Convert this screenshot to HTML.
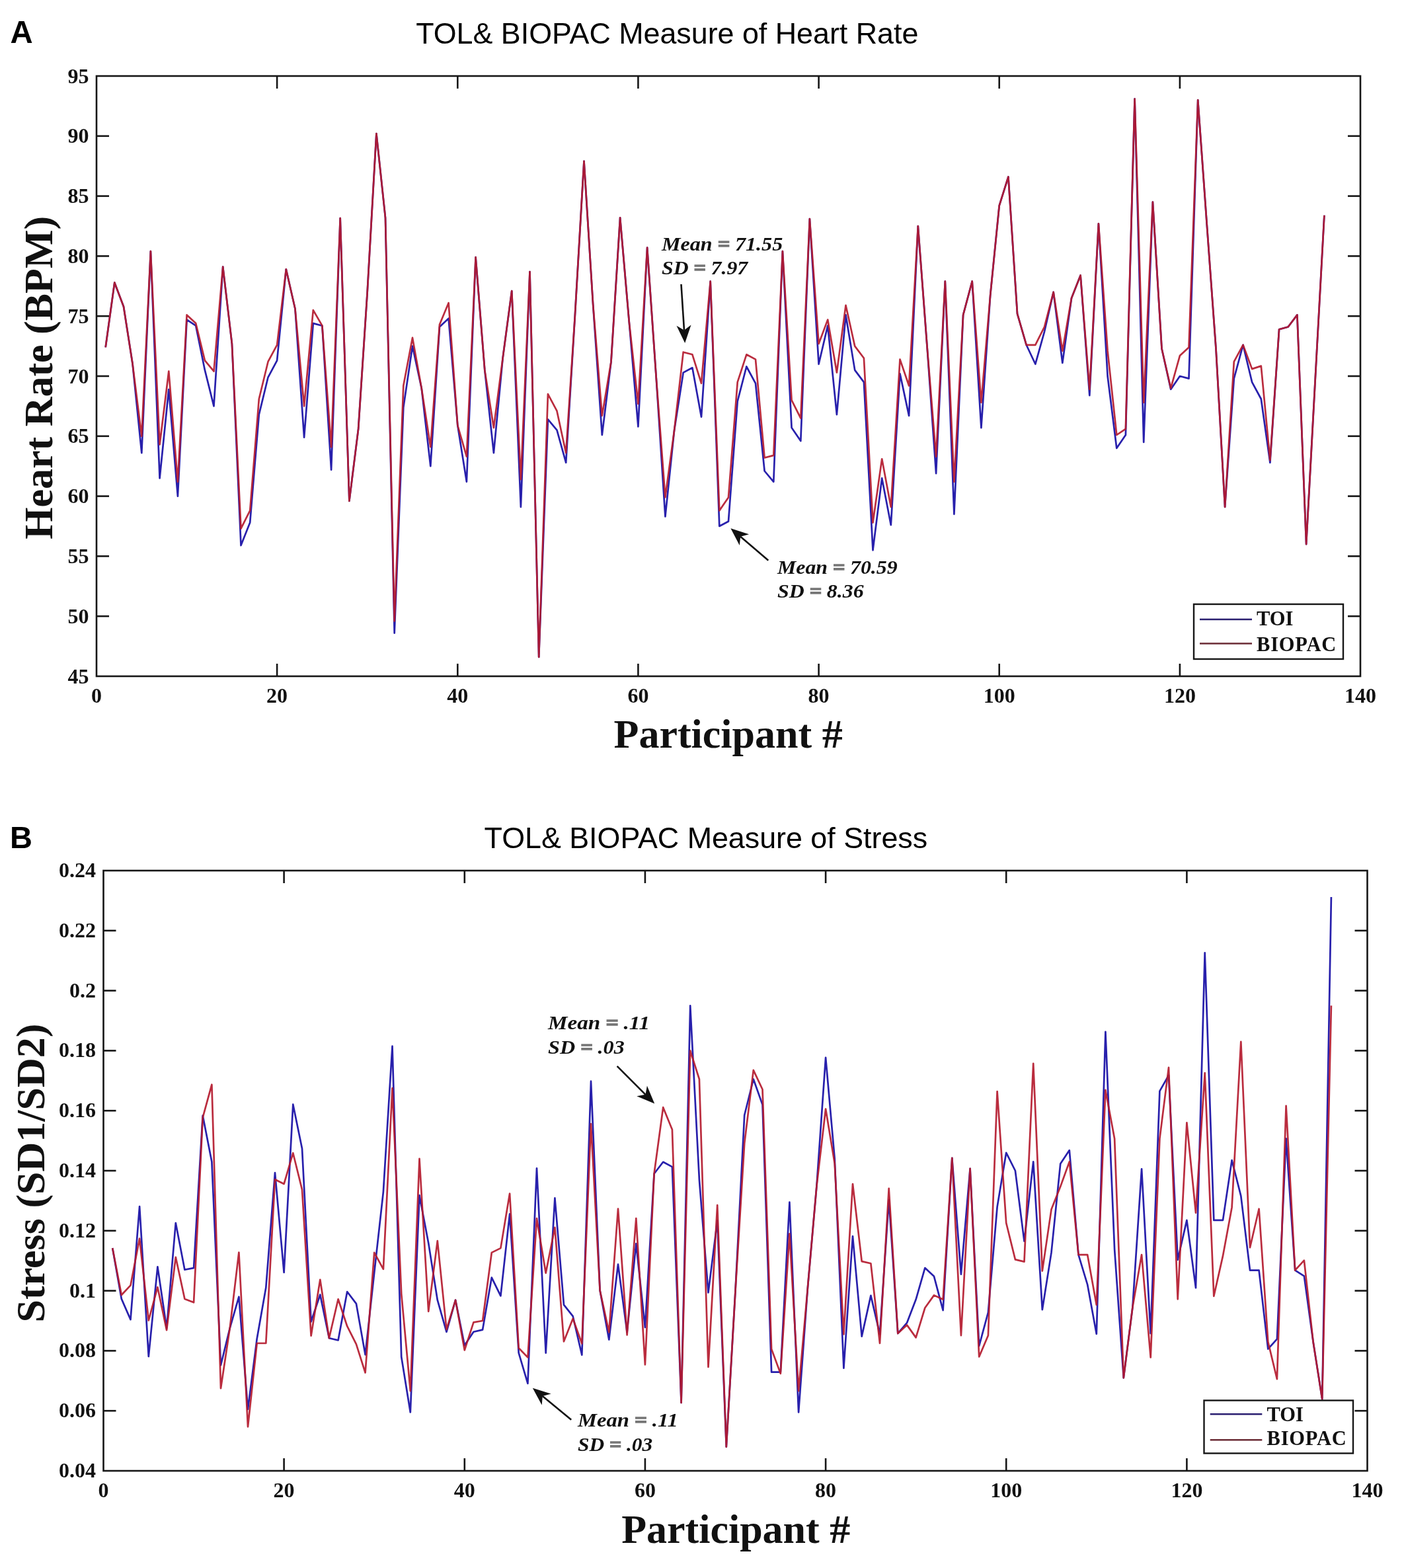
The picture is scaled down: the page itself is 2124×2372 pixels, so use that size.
<!DOCTYPE html>
<html><head><meta charset="utf-8"><title>TOL &amp; BIOPAC Measures</title>
<style>html,body{margin:0;padding:0;background:#fff;}svg{display:block;}</style>
</head><body>
<svg width="2124" height="2372" viewBox="0 0 2124 2372">
<rect width="2124" height="2372" fill="#fff"/>
<g font-family="Liberation Sans, Arial, sans-serif" fill="#000">
<text x="15.6" y="65.0" font-weight="bold" font-size="47.3">A</text>
<text x="15" y="1282.6" font-weight="bold" font-size="47">B</text>
<text x="629.2" y="65.8" font-size="44.8">TOL&amp; BIOPAC Measure of Heart Rate</text>
<text x="732.6" y="1283" font-size="44.8">TOL&amp; BIOPAC Measure of Stress</text>
</g>
<g font-family="Liberation Serif, serif" font-weight="bold" font-size="62" fill="#111">
<text transform="translate(79.3,571.3) rotate(-90)" text-anchor="middle">Heart Rate (BPM)</text>
<text transform="translate(66.8,1774.5) rotate(-90)" text-anchor="middle">Stress (SD1/SD2)</text>
<text x="1101.6" y="1130.5" text-anchor="middle">Participant #</text>
<text x="1113.2" y="2333.5" text-anchor="middle">Participant #</text>
</g>
<g>
<polyline points="159.7,525.4 173.3,427.4 187.0,463.7 200.6,550.8 214.3,685.2 227.9,380.1 241.6,723.4 255.3,589.0 268.9,750.6 282.6,483.6 296.2,492.7 309.9,559.9 323.5,614.4 337.2,403.7 350.9,520.0 364.5,825.1 378.2,790.6 391.8,627.1 405.5,570.8 419.1,545.4 432.8,407.4 446.5,467.3 460.1,661.6 473.8,489.1 487.4,492.7 501.1,710.6 514.7,330.2 528.4,757.9 542.1,648.9 555.7,441.9 569.4,202.2 583.0,329.3 596.7,957.6 610.3,616.2 624.0,523.6 637.7,587.2 651.3,705.2 665.0,494.5 678.6,481.8 692.3,643.5 705.9,728.8 719.6,389.2 733.3,559.9 746.9,685.2 760.6,541.8 774.2,440.1 787.9,766.9 801.5,411.0 815.2,993.9 828.9,634.4 842.5,650.7 856.2,699.8 869.8,478.2 883.5,243.9 897.1,460.0 910.8,658.0 924.5,547.2 938.1,329.3 951.8,487.3 965.4,645.3 979.1,374.7 992.7,570.8 1006.4,781.5 1020.1,650.7 1033.7,563.6 1047.4,556.3 1061.0,630.7 1074.7,425.5 1088.3,796.0 1102.0,788.7 1115.7,607.1 1129.3,554.5 1143.0,579.9 1156.6,712.5 1170.3,728.8 1183.9,380.1 1197.6,647.1 1211.3,667.1 1224.9,331.1 1238.6,550.8 1252.2,492.7 1265.9,627.1 1279.5,476.4 1293.2,559.9 1306.9,578.1 1320.5,832.3 1334.2,723.4 1347.8,794.2 1361.5,565.4 1375.1,628.9 1388.8,342.0 1402.5,523.6 1416.1,716.1 1429.8,425.5 1443.4,777.8 1457.1,476.4 1470.7,425.5 1484.4,647.1 1498.1,447.3 1511.7,311.1 1525.4,267.5 1539.0,474.6 1552.7,521.8 1566.3,550.8 1580.0,501.8 1593.7,441.9 1607.3,549.0 1621.0,451.0 1634.6,416.5 1648.3,598.1 1661.9,338.4 1675.6,569.0 1689.3,678.0 1702.9,658.0 1716.6,149.5 1730.2,668.9 1743.9,305.7 1757.5,527.2 1771.2,589.0 1784.9,569.0 1798.5,572.6 1812.2,151.3 1825.8,340.2 1839.5,527.2 1853.1,766.9 1866.8,572.6 1880.5,521.8 1894.1,578.1 1907.8,603.5 1921.4,699.8 1935.1,498.2 1948.7,494.5 1962.4,476.4 1976.1,823.2 1989.7,574.4 2003.4,325.7" fill="none" stroke="#2820ac" stroke-width="2.70" stroke-opacity="1.00" stroke-linejoin="round" stroke-linecap="butt"/>
<polyline points="159.7,525.4 173.3,427.4 187.0,463.7 200.6,550.8 214.3,659.8 227.9,380.1 241.6,672.5 255.3,561.7 268.9,728.8 282.6,476.4 296.2,489.1 309.9,545.4 323.5,561.7 337.2,403.7 350.9,520.0 364.5,799.6 378.2,772.4 391.8,603.5 405.5,547.2 419.1,521.8 432.8,407.4 446.5,467.3 460.1,614.4 473.8,469.1 487.4,492.7 501.1,676.1 514.7,330.2 528.4,757.9 542.1,648.9 555.7,441.9 569.4,202.2 583.0,329.3 596.7,939.5 610.3,583.5 624.0,510.9 637.7,587.2 651.3,676.1 665.0,490.9 678.6,458.2 692.3,643.5 705.9,690.7 719.6,389.2 733.3,559.9 746.9,647.1 760.6,541.8 774.2,440.1 787.9,725.2 801.5,411.0 815.2,993.9 828.9,596.2 842.5,621.7 856.2,685.2 869.8,478.2 883.5,243.9 897.1,460.0 910.8,628.9 924.5,547.2 938.1,329.3 951.8,487.3 965.4,610.8 979.1,374.7 992.7,570.8 1006.4,752.4 1020.1,650.7 1033.7,532.7 1047.4,536.3 1061.0,579.9 1074.7,425.5 1088.3,772.4 1102.0,752.4 1115.7,578.1 1129.3,536.3 1143.0,543.6 1156.6,692.5 1170.3,688.9 1183.9,380.1 1197.6,605.3 1211.3,632.6 1224.9,331.1 1238.6,520.0 1252.2,483.6 1265.9,563.6 1279.5,461.9 1293.2,523.6 1306.9,541.8 1320.5,790.6 1334.2,694.3 1347.8,766.9 1361.5,543.6 1375.1,583.5 1388.8,342.0 1402.5,523.6 1416.1,690.7 1429.8,425.5 1443.4,728.8 1457.1,476.4 1470.7,425.5 1484.4,609.0 1498.1,447.3 1511.7,311.1 1525.4,267.5 1539.0,474.6 1552.7,521.8 1566.3,521.8 1580.0,494.5 1593.7,441.9 1607.3,530.9 1621.0,451.0 1634.6,416.5 1648.3,589.0 1661.9,338.4 1675.6,530.9 1689.3,658.0 1702.9,648.9 1716.6,149.5 1730.2,609.0 1743.9,305.7 1757.5,527.2 1771.2,587.2 1784.9,538.1 1798.5,525.4 1812.2,151.3 1825.8,340.2 1839.5,527.2 1853.1,766.9 1866.8,547.2 1880.5,521.8 1894.1,558.1 1907.8,553.6 1921.4,696.1 1935.1,498.2 1948.7,494.5 1962.4,476.4 1976.1,823.2 1989.7,574.4 2003.4,325.7" fill="none" stroke="#b41a2e" stroke-width="2.70" stroke-opacity="0.92" stroke-linejoin="round" stroke-linecap="butt"/>
<polyline points="170.2,1888.1 183.8,1964.9 197.5,1996.2 211.1,1825.0 224.8,2052.0 238.4,1916.3 252.1,2009.3 265.8,1850.0 279.4,1920.8 293.1,1918.1 306.7,1687.5 320.4,1757.4 334.0,2065.2 347.7,2009.3 361.4,1961.7 375.0,2131.9 388.7,2025.2 402.3,1948.1 416.0,1774.2 429.6,1924.9 443.3,1670.7 457.0,1737.4 470.6,1999.4 484.3,1958.5 497.9,2024.3 511.6,2027.5 525.2,1954.0 538.9,1972.1 552.6,2049.3 566.2,1925.4 579.9,1802.8 593.5,1582.6 607.2,2052.5 620.8,2136.5 634.5,1808.2 648.2,1880.4 661.8,1966.7 675.5,2014.8 689.1,1966.7 702.8,2035.2 716.4,2014.8 730.1,2011.6 743.8,1932.6 757.4,1960.3 771.1,1836.4 784.7,2046.6 798.4,2092.9 812.0,1767.4 825.7,2046.6 839.4,1812.3 853.0,1973.9 866.7,1991.2 880.3,2049.8 894.0,1635.7 907.6,1952.1 921.3,2026.6 935.0,1912.6 948.6,2015.3 962.3,1881.3 975.9,2008.0 989.6,1775.5 1003.2,1757.8 1016.9,1765.1 1030.6,2121.9 1044.2,1521.3 1057.9,1784.6 1071.5,1955.3 1085.2,1846.4 1098.8,2188.7 1112.5,1952.6 1126.2,1687.0 1139.8,1632.5 1153.5,1671.1 1167.1,2075.6 1180.8,2075.6 1194.4,1818.7 1208.1,2136.5 1221.8,1949.4 1235.4,1794.6 1249.1,1599.8 1262.7,1752.8 1276.4,2069.7 1290.0,1870.0 1303.7,2021.6 1317.4,1959.9 1331.0,2018.4 1344.7,1815.0 1358.3,2017.1 1372.0,2001.2 1385.6,1965.8 1399.3,1918.1 1413.0,1930.8 1426.6,1982.1 1440.3,1751.9 1453.9,1927.6 1467.6,1767.8 1481.2,2036.1 1494.9,1985.3 1508.6,1825.9 1522.2,1743.8 1535.9,1771.0 1549.5,1877.7 1563.2,1757.4 1576.8,1981.2 1590.5,1894.9 1604.2,1760.6 1617.8,1740.1 1631.5,1898.1 1645.1,1943.1 1658.8,2018.0 1672.4,1560.8 1686.1,1889.9 1699.8,2084.3 1713.4,1977.6 1727.1,1768.3 1740.7,2017.1 1754.4,1650.7 1768.0,1626.6 1781.7,1905.8 1795.4,1845.9 1809.0,1948.1 1822.7,1441.4 1836.3,1845.9 1850.0,1845.9 1863.6,1755.1 1877.3,1809.1 1891.0,1921.7 1904.6,1921.7 1918.3,2040.7 1931.9,2025.7 1945.6,1722.4 1959.2,1921.7 1972.9,1930.4 1986.6,2029.8 2000.2,2116.5 2013.9,1357.0" fill="none" stroke="#2820ac" stroke-width="2.70" stroke-opacity="1.00" stroke-linejoin="round" stroke-linecap="butt"/>
<polyline points="170.2,1888.1 183.8,1959.0 197.5,1944.4 211.1,1873.6 224.8,1997.5 238.4,1947.2 252.1,2012.1 265.8,1901.8 279.4,1964.9 293.1,1970.3 306.7,1690.6 320.4,1640.7 334.0,2100.2 347.7,2009.3 361.4,1894.5 375.0,2158.3 388.7,2032.0 402.3,2032.0 416.0,1784.2 429.6,1791.0 443.3,1744.2 457.0,1799.6 470.6,2020.7 484.3,1935.8 497.9,2024.3 511.6,1965.3 525.2,2006.2 538.9,2033.4 552.6,2076.5 566.2,1894.9 579.9,1919.9 593.5,1646.2 607.2,1957.1 620.8,2104.2 634.5,1752.8 648.2,1983.9 661.8,1877.2 675.5,2011.2 689.1,1966.7 702.8,2042.5 716.4,2000.3 730.1,1998.0 743.8,1894.9 757.4,1888.1 771.1,1805.5 784.7,2039.3 798.4,2053.4 812.0,1843.2 825.7,1925.8 839.4,1856.8 853.0,2029.3 866.7,1994.8 880.3,2032.5 894.0,1700.2 907.6,1952.1 921.3,2015.3 935.0,1828.7 948.6,2019.3 962.3,1843.2 975.9,2064.3 989.6,1775.5 1003.2,1675.2 1016.9,1708.8 1030.6,2121.9 1044.2,1589.4 1057.9,1632.5 1071.5,2067.9 1085.2,1823.2 1098.8,2188.7 1112.5,1952.6 1126.2,1729.7 1139.8,1618.9 1153.5,1648.0 1167.1,2040.7 1180.8,2077.9 1194.4,1866.3 1208.1,2104.2 1221.8,1949.4 1235.4,1794.6 1249.1,1677.5 1262.7,1760.1 1276.4,2018.4 1290.0,1791.0 1303.7,1908.1 1317.4,1911.3 1331.0,2032.0 1344.7,1797.8 1358.3,2017.1 1372.0,2004.4 1385.6,2023.4 1399.3,1978.5 1413.0,1959.4 1426.6,1965.8 1440.3,1751.9 1453.9,2020.2 1467.6,1767.8 1481.2,2052.5 1494.9,2020.2 1508.6,1651.1 1522.2,1850.0 1535.9,1905.4 1549.5,1908.6 1563.2,1608.9 1576.8,1922.6 1590.5,1829.6 1604.2,1795.1 1617.8,1757.4 1631.5,1898.1 1645.1,1898.1 1658.8,1973.9 1672.4,1648.9 1686.1,1722.4 1699.8,2084.3 1713.4,1977.6 1727.1,1898.1 1740.7,2053.4 1754.4,1722.4 1768.0,1614.8 1781.7,1965.3 1795.4,1698.4 1809.0,1834.6 1822.7,1623.0 1836.3,1960.8 1850.0,1899.9 1863.6,1826.4 1877.3,1575.8 1891.0,1887.2 1904.6,1828.7 1918.3,2029.8 1931.9,2086.1 1945.6,1672.9 1959.2,1921.7 1972.9,1906.7 1986.6,2029.8 2000.2,2116.5 2013.9,1521.3" fill="none" stroke="#b41a2e" stroke-width="2.70" stroke-opacity="0.92" stroke-linejoin="round" stroke-linecap="butt"/>
</g>
<g stroke="#161616" stroke-width="2.6"><line x1="419.1" y1="1023.0" x2="419.1" y2="1004.0"/><line x1="419.1" y1="115.0" x2="419.1" y2="134.0"/><line x1="692.3" y1="1023.0" x2="692.3" y2="1004.0"/><line x1="692.3" y1="115.0" x2="692.3" y2="134.0"/><line x1="965.4" y1="1023.0" x2="965.4" y2="1004.0"/><line x1="965.4" y1="115.0" x2="965.4" y2="134.0"/><line x1="1238.6" y1="1023.0" x2="1238.6" y2="1004.0"/><line x1="1238.6" y1="115.0" x2="1238.6" y2="134.0"/><line x1="1511.7" y1="1023.0" x2="1511.7" y2="1004.0"/><line x1="1511.7" y1="115.0" x2="1511.7" y2="134.0"/><line x1="1784.9" y1="1023.0" x2="1784.9" y2="1004.0"/><line x1="1784.9" y1="115.0" x2="1784.9" y2="134.0"/><line x1="146.0" y1="932.2" x2="165.0" y2="932.2"/><line x1="2058.0" y1="932.2" x2="2039.0" y2="932.2"/><line x1="146.0" y1="841.4" x2="165.0" y2="841.4"/><line x1="2058.0" y1="841.4" x2="2039.0" y2="841.4"/><line x1="146.0" y1="750.6" x2="165.0" y2="750.6"/><line x1="2058.0" y1="750.6" x2="2039.0" y2="750.6"/><line x1="146.0" y1="659.8" x2="165.0" y2="659.8"/><line x1="2058.0" y1="659.8" x2="2039.0" y2="659.8"/><line x1="146.0" y1="569.0" x2="165.0" y2="569.0"/><line x1="2058.0" y1="569.0" x2="2039.0" y2="569.0"/><line x1="146.0" y1="478.2" x2="165.0" y2="478.2"/><line x1="2058.0" y1="478.2" x2="2039.0" y2="478.2"/><line x1="146.0" y1="387.4" x2="165.0" y2="387.4"/><line x1="2058.0" y1="387.4" x2="2039.0" y2="387.4"/><line x1="146.0" y1="296.6" x2="165.0" y2="296.6"/><line x1="2058.0" y1="296.6" x2="2039.0" y2="296.6"/><line x1="146.0" y1="205.8" x2="165.0" y2="205.8"/><line x1="2058.0" y1="205.8" x2="2039.0" y2="205.8"/></g><rect x="146.0" y="115.0" width="1912.0" height="908.0" fill="none" stroke="#161616" stroke-width="2.6"/><g font-family="Liberation Serif, serif" font-weight="bold" font-size="32" fill="#111"><text x="134.5" y="1033.6" text-anchor="end">45</text><text x="134.5" y="942.8" text-anchor="end">50</text><text x="134.5" y="852.0" text-anchor="end">55</text><text x="134.5" y="761.2" text-anchor="end">60</text><text x="134.5" y="670.4" text-anchor="end">65</text><text x="134.5" y="579.6" text-anchor="end">70</text><text x="134.5" y="488.8" text-anchor="end">75</text><text x="134.5" y="398.0" text-anchor="end">80</text><text x="134.5" y="307.2" text-anchor="end">85</text><text x="134.5" y="216.4" text-anchor="end">90</text><text x="134.5" y="125.6" text-anchor="end">95</text><text x="146.0" y="1062.8" text-anchor="middle">0</text><text x="419.1" y="1062.8" text-anchor="middle">20</text><text x="692.3" y="1062.8" text-anchor="middle">40</text><text x="965.4" y="1062.8" text-anchor="middle">60</text><text x="1238.6" y="1062.8" text-anchor="middle">80</text><text x="1511.7" y="1062.8" text-anchor="middle">100</text><text x="1784.9" y="1062.8" text-anchor="middle">120</text><text x="2058.0" y="1062.8" text-anchor="middle">140</text></g>
<g stroke="#161616" stroke-width="2.6"><line x1="429.6" y1="2225.0" x2="429.6" y2="2206.0"/><line x1="429.6" y1="1317.0" x2="429.6" y2="1336.0"/><line x1="702.8" y1="2225.0" x2="702.8" y2="2206.0"/><line x1="702.8" y1="1317.0" x2="702.8" y2="1336.0"/><line x1="975.9" y1="2225.0" x2="975.9" y2="2206.0"/><line x1="975.9" y1="1317.0" x2="975.9" y2="1336.0"/><line x1="1249.1" y1="2225.0" x2="1249.1" y2="2206.0"/><line x1="1249.1" y1="1317.0" x2="1249.1" y2="1336.0"/><line x1="1522.2" y1="2225.0" x2="1522.2" y2="2206.0"/><line x1="1522.2" y1="1317.0" x2="1522.2" y2="1336.0"/><line x1="1795.4" y1="2225.0" x2="1795.4" y2="2206.0"/><line x1="1795.4" y1="1317.0" x2="1795.4" y2="1336.0"/><line x1="156.5" y1="2134.2" x2="175.5" y2="2134.2"/><line x1="2068.5" y1="2134.2" x2="2049.5" y2="2134.2"/><line x1="156.5" y1="2043.4" x2="175.5" y2="2043.4"/><line x1="2068.5" y1="2043.4" x2="2049.5" y2="2043.4"/><line x1="156.5" y1="1952.6" x2="175.5" y2="1952.6"/><line x1="2068.5" y1="1952.6" x2="2049.5" y2="1952.6"/><line x1="156.5" y1="1861.8" x2="175.5" y2="1861.8"/><line x1="2068.5" y1="1861.8" x2="2049.5" y2="1861.8"/><line x1="156.5" y1="1771.0" x2="175.5" y2="1771.0"/><line x1="2068.5" y1="1771.0" x2="2049.5" y2="1771.0"/><line x1="156.5" y1="1680.2" x2="175.5" y2="1680.2"/><line x1="2068.5" y1="1680.2" x2="2049.5" y2="1680.2"/><line x1="156.5" y1="1589.4" x2="175.5" y2="1589.4"/><line x1="2068.5" y1="1589.4" x2="2049.5" y2="1589.4"/><line x1="156.5" y1="1498.6" x2="175.5" y2="1498.6"/><line x1="2068.5" y1="1498.6" x2="2049.5" y2="1498.6"/><line x1="156.5" y1="1407.8" x2="175.5" y2="1407.8"/><line x1="2068.5" y1="1407.8" x2="2049.5" y2="1407.8"/></g><rect x="156.5" y="1317.0" width="1912.0" height="908.0" fill="none" stroke="#161616" stroke-width="2.6"/><g font-family="Liberation Serif, serif" font-weight="bold" font-size="32" fill="#111"><text x="145.0" y="2235.0" text-anchor="end">0.04</text><text x="145.0" y="2144.2" text-anchor="end">0.06</text><text x="145.0" y="2053.4" text-anchor="end">0.08</text><text x="145.0" y="1962.6" text-anchor="end">0.1</text><text x="145.0" y="1871.8" text-anchor="end">0.12</text><text x="145.0" y="1781.0" text-anchor="end">0.14</text><text x="145.0" y="1690.2" text-anchor="end">0.16</text><text x="145.0" y="1599.4" text-anchor="end">0.18</text><text x="145.0" y="1508.6" text-anchor="end">0.2</text><text x="145.0" y="1417.8" text-anchor="end">0.22</text><text x="145.0" y="1327.0" text-anchor="end">0.24</text><text x="156.5" y="2265.0" text-anchor="middle">0</text><text x="429.6" y="2265.0" text-anchor="middle">20</text><text x="702.8" y="2265.0" text-anchor="middle">40</text><text x="975.9" y="2265.0" text-anchor="middle">60</text><text x="1249.1" y="2265.0" text-anchor="middle">80</text><text x="1522.2" y="2265.0" text-anchor="middle">100</text><text x="1795.4" y="2265.0" text-anchor="middle">120</text><text x="2068.5" y="2265.0" text-anchor="middle">140</text></g>
<rect x="1806.0" y="914.0" width="226.0" height="83.0" fill="#fff" stroke="#161616" stroke-width="2.4"/><line x1="1815.0" y1="937.0" x2="1894.0" y2="937.0" stroke="#2a1f70" stroke-width="2.6"/><line x1="1815.0" y1="973.5" x2="1894.0" y2="973.5" stroke="#6a2a34" stroke-width="2.6"/><g font-family="Liberation Serif, serif" font-weight="bold" font-size="30.5" fill="#111"><text x="1901.0" y="945.7">TOI</text><text x="1901.0" y="984.6" letter-spacing="0.8">BIOPAC</text></g><rect x="1821.5" y="2118.5" width="225.5" height="80.0" fill="#fff" stroke="#161616" stroke-width="2.4"/><line x1="1830.7" y1="2139.3" x2="1909.3" y2="2139.3" stroke="#2a1f70" stroke-width="2.6"/><line x1="1830.7" y1="2178.3" x2="1909.3" y2="2178.3" stroke="#6a2a34" stroke-width="2.6"/><g font-family="Liberation Serif, serif" font-weight="bold" font-size="30.5" fill="#111"><text x="1916.5" y="2150.3">TOI</text><text x="1916.5" y="2186.4" letter-spacing="0.8">BIOPAC</text></g>
<g font-family="Liberation Serif, serif" font-weight="bold" font-style="italic" font-size="30" fill="#111"><text x="1001.0" y="378.7" textLength="183.2" lengthAdjust="spacingAndGlyphs">Mean <tspan fill="#777" stroke="#777" stroke-width="1.6">=</tspan> 71.55</text><text x="1001.0" y="415.0" textLength="130.2" lengthAdjust="spacingAndGlyphs">SD <tspan fill="#777" stroke="#777" stroke-width="1.6">=</tspan> 7.97</text><text x="1176.0" y="867.7" textLength="181.6" lengthAdjust="spacingAndGlyphs">Mean <tspan fill="#777" stroke="#777" stroke-width="1.6">=</tspan> 70.59</text><text x="1176.0" y="903.8" textLength="130.6" lengthAdjust="spacingAndGlyphs">SD <tspan fill="#777" stroke="#777" stroke-width="1.6">=</tspan> 8.36</text><text x="829.0" y="1557.4" textLength="154.2" lengthAdjust="spacingAndGlyphs">Mean <tspan fill="#777" stroke="#777" stroke-width="1.6">=</tspan> .11</text><text x="829.0" y="1593.6" textLength="115.8" lengthAdjust="spacingAndGlyphs">SD <tspan fill="#777" stroke="#777" stroke-width="1.6">=</tspan> .03</text><text x="874.0" y="2158.1" textLength="151.8" lengthAdjust="spacingAndGlyphs">Mean <tspan fill="#777" stroke="#777" stroke-width="1.6">=</tspan> .11</text><text x="874.0" y="2195.2" textLength="113.2" lengthAdjust="spacingAndGlyphs">SD <tspan fill="#777" stroke="#777" stroke-width="1.6">=</tspan> .03</text></g><line x1="1030.5" y1="430.0" x2="1035.0" y2="499.6" stroke="#111" stroke-width="2.6"/><path d="M1036.2,519.0 L1023.5,492.8 L1035.0,499.6 L1045.5,491.4 Z" fill="#111"/><line x1="1162.3" y1="847.7" x2="1120.2" y2="811.8" stroke="#111" stroke-width="2.6"/><path d="M1105.4,799.2 L1133.1,808.3 L1120.2,811.8 L1118.8,825.1 Z" fill="#111"/><line x1="933.6" y1="1612.9" x2="976.5" y2="1655.8" stroke="#111" stroke-width="2.6"/><path d="M990.2,1669.5 L963.3,1658.2 L976.5,1655.8 L978.9,1642.6 Z" fill="#111"/><line x1="864.2" y1="2147.8" x2="820.8" y2="2112.1" stroke="#111" stroke-width="2.6"/><path d="M805.8,2099.8 L833.6,2108.4 L820.8,2112.1 L819.7,2125.4 Z" fill="#111"/>
</svg>
</body></html>
